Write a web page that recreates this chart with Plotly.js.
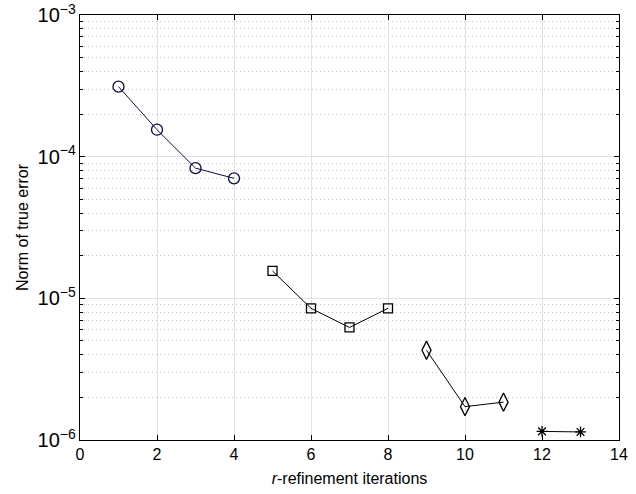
<!DOCTYPE html>
<html>
<head>
<meta charset="utf-8">
<script src="https://cdn.plot.ly/plotly-3.0.1.min.js"></script>
<style>
  html, body { margin: 0; padding: 0; background: #fff; }
  #chart { width: 636px; height: 494px; }
</style>
</head>
<body>
<div id="chart"></div>
<script>
// Refinement stages: iteration index and norm of the true error
const stage1Iter = [1, 2, 3, 4];
const stage1Err  = [3.12e-4, 1.55e-4, 8.3e-5, 7.03e-5];

const stage2Iter = [5, 6, 7, 8];
const stage2Err  = [1.56e-5, 8.5e-6, 6.23e-6, 8.5e-6];

const stage3Iter = [9, 10, 11];
const stage3Err  = [4.3e-6, 1.72e-6, 1.85e-6];

const stage4Iter = [12, 13];
const stage4Err  = [1.15e-6, 1.14e-6];

const xTickVals = [0, 2, 4, 6, 8, 10, 12, 14];

function stage(x, y, symbol, size, color) {
  return {
    x: x, y: y, type: 'scatter', mode: 'lines+markers',
    line: { color: color, width: 1 },
    marker: { symbol: symbol, size: size, color: color,
              line: { color: color, width: 1.3 } },
    showlegend: false, hoverinfo: 'x+y'
  };
}

const traces = [
  stage(stage1Iter, stage1Err, 'circle-open', 11, '#0d0d45'),
  stage(stage2Iter, stage2Err, 'square-open', 9, '#000000'),
  stage(stage3Iter, stage3Err, 'diamond-tall-open', 13, '#000000'),
  stage(stage4Iter, stage4Err, 'asterisk-open', 9, '#000000')
];

const fontFamily = 'Liberation Sans, Arial, Helvetica, sans-serif';
const tickFont = { family: fontFamily, size: 16, color: '#000' };
const titleFont = { family: fontFamily, size: 16, color: '#000' };

const layout = {
  width: 636, height: 494,
  margin: { l: 80, r: 17, t: 15, b: 54 },
  paper_bgcolor: '#fff', plot_bgcolor: '#fff',
  font: tickFont,
  xaxis: {
    range: [0, 14], tickvals: xTickVals, ticktext: xTickVals.map(String),
    showline: true, linecolor: '#000', linewidth: 1, mirror: 'ticks',
    ticks: 'inside', ticklen: 5, tickcolor: '#000', tickwidth: 1,
    showgrid: true, gridcolor: '#e2e2e2', gridwidth: 1,
    zeroline: false, tickfont: tickFont,
    title: { text: '<i>r</i>-refinement iterations', font: titleFont, standoff: 10 }
  },
  yaxis: {
    type: 'log', range: [-6, -3], dtick: 1,
    exponentformat: 'power', showexponent: 'all',
    showline: true, linecolor: '#000', linewidth: 1, mirror: 'ticks',
    ticks: 'inside', ticklen: 5, tickcolor: '#000', tickwidth: 1,
    showgrid: true, gridcolor: '#e2e2e2', gridwidth: 1,
    zeroline: false, tickfont: tickFont,
    minor: { dtick: 'D1', ticks: 'inside', ticklen: 3, tickcolor: '#000',
             showgrid: true, gridcolor: '#c4c4c4', griddash: '1px,3px', gridwidth: 1 },
    title: { text: 'Norm of true error', font: titleFont, standoff: 4 }
  }
};

Plotly.newPlot('chart', traces, layout, { displayModeBar: false, staticPlot: true });
</script>
</body>
</html>
